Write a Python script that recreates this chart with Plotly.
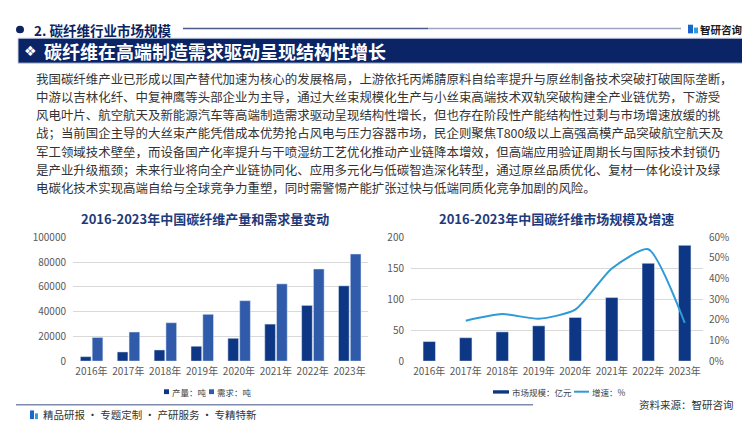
import plotly.graph_objects as go

W, H = 750, 421
FONT = "Noto Sans CJK SC"

# ---------------- data ----------------
years = ["2016年", "2017年", "2018年", "2019年", "2020年", "2021年", "2022年", "2023年"]
production = [3600, 7400, 9000, 12000, 18450, 29900, 45000, 60800]
demand = [19100, 23500, 31000, 37800, 48800, 62400, 74400, 86500]
market_size = [31.6, 37.8, 47.2, 57.0, 70.5, 102.6, 158.0, 187.0]
growth_years = ["2017年", "2018年", "2019年", "2020年", "2021年", "2022年", "2023年"]
growth = [0.196, 0.228, 0.205, 0.249, 0.449, 0.542, 0.185]

left_yticks = [0, 20000, 40000, 60000, 80000, 100000]
right_yticks = [0, 50, 100, 150, 200]
pct_ticks = [0, 0.1, 0.2, 0.3, 0.4, 0.5, 0.6]

series_names = ["产量：吨", "需求：吨", "市场规模：亿元", "增速：%"]

section_title = "2. 碳纤维行业市场规模"
banner_title = "碳纤维在高端制造需求驱动呈现结构性增长"
paragraph = [
    "我国碳纤维产业已形成以国产替代加速为核心的发展格局，上游依托丙烯腈原料自给率提升与原丝制备技术突破打破国际垄断，",
    "中游以吉林化纤、中复神鹰等头部企业为主导，通过大丝束规模化生产与小丝束高端技术双轨突破构建全产业链优势，下游受",
    "风电叶片、航空航天及新能源汽车等高端制造需求驱动呈现结构性增长，但也存在阶段性产能结构性过剩与市场增速放缓的挑",
    "战；当前国企主导的大丝束产能凭借成本优势抢占风电与压力容器市场，民企则聚焦T800级以上高强高模产品突破航空航天及",
    "军工领域技术壁垒，而设备国产化率提升与干喷湿纺工艺优化推动产业链降本增效，但高端应用验证周期长与国际技术封锁仍",
    "是产业升级瓶颈；未来行业将向全产业链协同化、应用多元化与低碳智造深化转型，通过原丝品质优化、复材一体化设计及绿",
    "电碳化技术实现高端自给与全球竞争力重塑，同时需警惕产能扩张过快与低端同质化竞争加剧的风险。",
]
left_title = "2016-2023年中国碳纤维产量和需求量变动"
right_title = "2016-2023年中国碳纤维市场规模及增速"

# ---------------- helpers ----------------
def px(x):
    return x / W

def py(y):
    return 1 - y / H

DARK = "#0d3784"
LIGHT = "#2f5baa"
NAVY = "#0b2461"
LINE = "#2e9ad8"
TICK = "#595959"
GRID = "#d9d9d9"

fig = go.Figure()

fig.add_trace(go.Bar(
    x=years, y=production, name=series_names[0], marker_color=DARK,
    offset=-0.30, width=0.29, xaxis="x", yaxis="y",
))
fig.add_trace(go.Bar(
    x=years, y=demand, name=series_names[1], marker_color=LIGHT,
    offset=0.02, width=0.29, xaxis="x", yaxis="y",
))
fig.add_trace(go.Bar(
    x=years, y=market_size, name=series_names[2], marker_color=DARK,
    offset=-0.17, width=0.34, xaxis="x2", yaxis="y2",
))
fig.add_trace(go.Scatter(
    x=growth_years, y=growth, name=series_names[3], mode="lines",
    line=dict(color=LINE, width=2, shape="spline", smoothing=0.6),
    xaxis="x2", yaxis="y3",
))

tickfont = dict(family=FONT, size=10, color=TICK)
ydom = [py(357.7), py(229)]

fig.update_layout(
    width=W, height=H,
    margin=dict(l=0, r=0, t=0, b=0),
    paper_bgcolor="white", plot_bgcolor="rgba(0,0,0,0)",
    barmode="overlay",
    showlegend=False,
    font=dict(family=FONT, color="#333333"),
    xaxis=dict(domain=[px(65), px(360)], type="category", tickfont=tickfont,
               showgrid=False, showline=False, ticks="", ticklabelstandoff=3,
               anchor="y", fixedrange=True),
    yaxis=dict(domain=ydom, range=[0, 100000], tickvals=left_yticks, tickformat="d",
               tickfont=tickfont, showgrid=True, gridcolor=GRID, gridwidth=1,
               zeroline=False, showline=False, ticks="", ticklabelstandoff=6,
               anchor="x"),
    xaxis2=dict(domain=[px(403), px(695)], type="category", tickfont=tickfont,
                showgrid=False, showline=False, ticks="", ticklabelstandoff=3,
                anchor="y2"),
    yaxis2=dict(domain=ydom, range=[0, 200], tickvals=right_yticks,
                tickfont=tickfont, showgrid=True, gridcolor=GRID, gridwidth=1,
                zeroline=False, showline=False, ticks="", ticklabelstandoff=6,
                anchor="x2"),
    yaxis3=dict(range=[0, 0.6], tickvals=pct_ticks, tickformat=".0%",
                tickfont=tickfont, overlaying="y2", side="right",
                showgrid=False, zeroline=False, showline=False, ticks="",
                ticklabelstandoff=5, anchor="x2"),
)

shapes = []
annotations = []

def text(t, x, y, size, color="#333333", anchor="left", family=FONT):
    annotations.append(dict(text=t, x=px(x), y=py(y), xref="paper", yref="paper",
                            xanchor=anchor, yanchor="middle", showarrow=False,
                            font=dict(family=family, size=size, color=color)))

def rect(x0, x1, y0, y1, color, line=None):
    shapes.append(dict(type="rect", xref="paper", yref="paper",
                       x0=px(x0), x1=px(x1), y0=py(y1), y1=py(y0),
                       fillcolor=color, line=line or dict(width=0)))

def hline(x0, x1, y, color, width):
    shapes.append(dict(type="line", xref="paper", yref="paper",
                       x0=px(x0), x1=px(x1), y0=py(y), y1=py(y),
                       line=dict(color=color, width=width)))

# header bullet + section title + rule
shapes.append(dict(type="circle", xref="paper", yref="paper",
                   x0=px(8), x1=px(16), y0=py(17), y1=py(9),
                   fillcolor=NAVY, line=dict(width=0)))
text("<b>" + section_title + "</b>", 24, 13, 13.5, NAVY)
hline(175, 420, 12, "#4a5a8a", 1.5)
hline(420, 673, 12, "#9aa4c0", 1.5)

# logo top right
rect(680, 685, 8, 17, "#1b66c9")
rect(686, 690, 11, 17, "#2aa0e0")
text("<b>智研咨询</b>", 690, 12.5, 10.5, "#1a1a1a")

# banner
rect(10, 735, 22, 48, "#0b2466", dict(color="#c9d2e6", width=1))
text("❖", 14, 35, 14, "white", family="DejaVu Sans")
text("<b>" + banner_title + "</b>", 34, 35, 18, "white")

# paragraph lines
for i, line in enumerate(paragraph):
    text(line, 26, 64 + 19 * i, 12.45, "#333333")

# chart titles
text("<b>" + left_title + "</b>", 197, 209, 13, "#1f3a7a", "center")
text("<b>" + right_title + "</b>", 548, 209, 13, "#1f3a7a", "center")

# legends (drawn as keys)
rect(156, 161, 387, 392, DARK)
text(series_names[0], 162, 389.5, 8.5, "#404040")
rect(201, 206, 387, 392, LIGHT)
text(series_names[1], 207, 389.5, 8.5, "#404040")
rect(485, 501, 388, 391.5, DARK)
text(series_names[2], 502, 389.5, 8.5, "#404040")
hline(566, 581, 389.5, LINE, 2)
text(series_names[3], 582, 389.5, 8.5, "#404040")

# footer
hline(8, 525, 403, "#7f8bab", 1.5)
text("资料来源：智研咨询", 728, 402.5, 10.5, "#333333", "right")
rect(22, 26, 409, 418, "#1b66c9")
rect(27, 30, 412, 418, "#2aa0e0")
text("精品研报 · 专题定制 · 产研服务 · 专精特新", 33, 413.5, 10.5, "#333333")

fig.update_layout(shapes=shapes, annotations=annotations)

fig.write_html("out.html")
